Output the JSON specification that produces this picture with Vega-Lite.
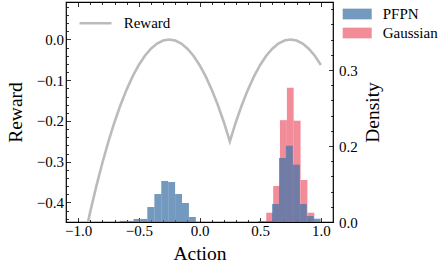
{
  "$schema": "https://vega.github.io/schema/vega-lite/v6.json",
  "width": 267,
  "height": 220,
  "autosize": {"type": "none"},
  "padding": {"left": 66, "top": 2, "right": 107, "bottom": 43},
  "config": {
    "view": {"stroke": "black", "strokeWidth": 1.2},
    "font": "Liberation Serif",
    "axis": {
      "domain": false, "grid": false, "tickColor": "black", "tickWidth": 0.8,
      "labelColor": "black", "titleColor": "black",
      "labelFont": "Liberation Serif", "titleFont": "Liberation Serif",
      "labelFontSize": 15, "titleFontSize": 19.5, "titleFontWeight": "normal",
      "labelFlush": false, "labelOverlap": false
    },
    "legend": {"labelFont": "Liberation Serif", "labelFontSize": 15, "labelColor": "black"}
  },
  "datasets": {
    "reward": [
      {"action": -1.0, "reward": -0.5625, "series": "Reward"},
      {"action": -0.95, "reward": -0.49, "series": "Reward"},
      {"action": -0.9, "reward": -0.4225, "series": "Reward"},
      {"action": -0.85, "reward": -0.36, "series": "Reward"},
      {"action": -0.8, "reward": -0.3025, "series": "Reward"},
      {"action": -0.75, "reward": -0.25, "series": "Reward"},
      {"action": -0.7, "reward": -0.2025, "series": "Reward"},
      {"action": -0.65, "reward": -0.16, "series": "Reward"},
      {"action": -0.6, "reward": -0.1225, "series": "Reward"},
      {"action": -0.55, "reward": -0.09, "series": "Reward"},
      {"action": -0.5, "reward": -0.0625, "series": "Reward"},
      {"action": -0.45, "reward": -0.04, "series": "Reward"},
      {"action": -0.4, "reward": -0.0225, "series": "Reward"},
      {"action": -0.35, "reward": -0.01, "series": "Reward"},
      {"action": -0.3, "reward": -0.0025, "series": "Reward"},
      {"action": -0.25, "reward": 0.0, "series": "Reward"},
      {"action": -0.2, "reward": -0.0025, "series": "Reward"},
      {"action": -0.15, "reward": -0.01, "series": "Reward"},
      {"action": -0.1, "reward": -0.0225, "series": "Reward"},
      {"action": -0.05, "reward": -0.04, "series": "Reward"},
      {"action": 0.0, "reward": -0.0625, "series": "Reward"},
      {"action": 0.05, "reward": -0.09, "series": "Reward"},
      {"action": 0.1, "reward": -0.1225, "series": "Reward"},
      {"action": 0.15, "reward": -0.16, "series": "Reward"},
      {"action": 0.2, "reward": -0.2025, "series": "Reward"},
      {"action": 0.25, "reward": -0.25, "series": "Reward"},
      {"action": 0.3, "reward": -0.2025, "series": "Reward"},
      {"action": 0.35, "reward": -0.16, "series": "Reward"},
      {"action": 0.4, "reward": -0.1225, "series": "Reward"},
      {"action": 0.45, "reward": -0.09, "series": "Reward"},
      {"action": 0.5, "reward": -0.0625, "series": "Reward"},
      {"action": 0.55, "reward": -0.04, "series": "Reward"},
      {"action": 0.6, "reward": -0.0225, "series": "Reward"},
      {"action": 0.65, "reward": -0.01, "series": "Reward"},
      {"action": 0.7, "reward": -0.0025, "series": "Reward"},
      {"action": 0.75, "reward": 0.0, "series": "Reward"},
      {"action": 0.8, "reward": -0.0025, "series": "Reward"},
      {"action": 0.85, "reward": -0.01, "series": "Reward"},
      {"action": 0.9, "reward": -0.0225, "series": "Reward"},
      {"action": 0.95, "reward": -0.04, "series": "Reward"},
      {"action": 1.0, "reward": -0.0625, "series": "Reward"}
    ],
    "gauss": [
      {"series": "Gaussian", "x0": 0.55, "x1": 0.607, "density": 0.0122},
      {"series": "Gaussian", "x0": 0.607, "x1": 0.663, "density": 0.0474},
      {"series": "Gaussian", "x0": 0.663, "x1": 0.72, "density": 0.134},
      {"series": "Gaussian", "x0": 0.72, "x1": 0.776, "density": 0.1767},
      {"series": "Gaussian", "x0": 0.776, "x1": 0.833, "density": 0.1333},
      {"series": "Gaussian", "x0": 0.833, "x1": 0.889, "density": 0.0553},
      {"series": "Gaussian", "x0": 0.889, "x1": 0.946, "density": 0.0122}
    ],
    "pfpn": [
      {"series": "PFPN", "x0": -0.658, "x1": -0.601, "density": 0.0015},
      {"series": "PFPN", "x0": -0.601, "x1": -0.544, "density": 0.0015},
      {"series": "PFPN", "x0": -0.544, "x1": -0.487, "density": 0.004},
      {"series": "PFPN", "x0": -0.487, "x1": -0.43, "density": 0.004},
      {"series": "PFPN", "x0": -0.43, "x1": -0.372, "density": 0.0197},
      {"series": "PFPN", "x0": -0.372, "x1": -0.315, "density": 0.0368},
      {"series": "PFPN", "x0": -0.315, "x1": -0.258, "density": 0.054},
      {"series": "PFPN", "x0": -0.258, "x1": -0.201, "density": 0.0526},
      {"series": "PFPN", "x0": -0.201, "x1": -0.144, "density": 0.0368},
      {"series": "PFPN", "x0": -0.144, "x1": -0.087, "density": 0.025},
      {"series": "PFPN", "x0": -0.087, "x1": -0.03, "density": 0.0066},
      {"series": "PFPN", "x0": 0.484, "x1": 0.541, "density": 0.0013},
      {"series": "PFPN", "x0": 0.541, "x1": 0.598, "density": 0.0013},
      {"series": "PFPN", "x0": 0.598, "x1": 0.655, "density": 0.0237},
      {"series": "PFPN", "x0": 0.655, "x1": 0.712, "density": 0.0842},
      {"series": "PFPN", "x0": 0.712, "x1": 0.769, "density": 0.1004},
      {"series": "PFPN", "x0": 0.769, "x1": 0.827, "density": 0.0754},
      {"series": "PFPN", "x0": 0.827, "x1": 0.884, "density": 0.0237},
      {"series": "PFPN", "x0": 0.884, "x1": 0.941, "density": 0.0079},
      {"series": "PFPN", "x0": 0.941, "x1": 0.998, "density": 0.0043}
    ]
  },
  "resolve": {"scale": {"y": "independent"}},
  "layer": [
    {
      "data": {"name": "reward"},
      "resolve": {"axis": {"x": "independent", "y": "independent"}},
      "layer": [
        {
          "mark": {"type": "line", "clip": true, "strokeWidth": 2.6},
          "encoding": {
            "x": {"field": "action", "type": "quantitative", "scale": {"domain": [-1.1, 1.1], "nice": false, "zero": false},
              "axis": {"orient": "bottom", "title": "Action", "values": [-1, -0.5, 0, 0.5, 1], "format": ".1f", "tickSize": -4.5, "labelPadding": 6, "titlePadding": 6}},
            "y": {"field": "reward", "type": "quantitative", "scale": {"domain": [-0.448, 0.092], "nice": false, "zero": false},
              "axis": {"orient": "left", "title": "Reward", "values": [-0.4, -0.3, -0.2, -0.1, 0], "format": ".1f", "tickSize": -4.5, "labelPadding": 7, "titlePadding": 11}},
            "stroke": {"field": "series", "type": "nominal", "scale": {"domain": ["Reward"], "range": ["#BBBBBB"]},
              "legend": {"orient": "none", "legendX": 12, "legendY": 3.7, "title": null, "symbolType": "stroke", "symbolSize": 1024, "symbolStrokeWidth": 2.6, "labelOffset": 10.7, "labelFontSize": 15}}
          }
        },
        {
          "mark": {"type": "line", "opacity": 0},
          "encoding": {
            "x": {"field": "action", "type": "quantitative", "scale": {"domain": [-1.1, 1.1], "nice": false, "zero": false},
              "axis": {"orient": "bottom", "title": null, "labels": false, "values": [-0.9, -0.8, -0.7, -0.6, -0.4, -0.3, -0.2, -0.1, 0.1, 0.2, 0.3, 0.4, 0.6, 0.7, 0.8, 0.9], "tickSize": -2.5}},
            "y": {"field": "reward", "type": "quantitative", "scale": {"domain": [-0.448, 0.092], "nice": false, "zero": false},
              "axis": {"orient": "left", "title": null, "labels": false, "values": [-0.44, -0.42, -0.38, -0.36, -0.34, -0.32, -0.28, -0.26, -0.24, -0.22, -0.18, -0.16, -0.14, -0.12, -0.08, -0.06, -0.04, -0.02, 0.02, 0.04, 0.06, 0.08], "tickSize": -2.5}}
          }
        },
        {
          "mark": {"type": "line", "opacity": 0},
          "encoding": {
            "x": {"field": "action", "type": "quantitative", "scale": {"domain": [-1.1, 1.1], "nice": false, "zero": false},
              "axis": {"orient": "top", "title": null, "labels": false, "values": [-1, -0.5, 0, 0.5, 1], "tickSize": -4.5}},
            "y": {"field": "reward", "type": "quantitative", "axis": null}
          }
        },
        {
          "mark": {"type": "line", "opacity": 0},
          "encoding": {
            "x": {"field": "action", "type": "quantitative", "scale": {"domain": [-1.1, 1.1], "nice": false, "zero": false},
              "axis": {"orient": "top", "title": null, "labels": false, "values": [-0.9, -0.8, -0.7, -0.6, -0.4, -0.3, -0.2, -0.1, 0.1, 0.2, 0.3, 0.4, 0.6, 0.7, 0.8, 0.9], "tickSize": -2.5}},
            "y": {"field": "reward", "type": "quantitative", "axis": null}
          }
        }
      ]
    },
    {
      "resolve": {"axis": {"y": "independent"}},
      "layer": [
        {
          "data": {"name": "gauss"},
          "mark": {"type": "bar", "opacity": 0.75},
          "encoding": {
            "x": {"field": "x0", "type": "quantitative", "axis": null, "scale": {"domain": [-1.1, 1.1], "nice": false, "zero": false}},
            "x2": {"field": "x1"},
            "y": {"field": "density", "type": "quantitative", "scale": {"domain": [0, 0.2895], "nice": false},
              "axis": {"orient": "right", "title": "Density", "titleAngle": -90, "values": [0, 0.1, 0.2], "labelExpr": "datum.value < 0.05 ? '0.0' : (datum.value < 0.15 ? '0.2' : '0.3')", "tickSize": -4.5, "labelPadding": 10, "titlePadding": 25}},
            "y2": {"datum": 0},
            "color": {"field": "series", "type": "nominal", "scale": {"domain": ["PFPN", "Gaussian"], "range": ["#4477AA", "#EE6677"]},
              "legend": {"orient": "none", "legendX": 281.2, "legendY": 2, "title": null, "symbolType": "M-1.45,-0.535H1.45V0.535H-1.45Z", "symbolSize": 400, "symbolOpacity": 0.75, "symbolStrokeWidth": 0, "labelOffset": 15.5, "rowPadding": 1, "labelFontSize": 15}}
          }
        },
        {
          "data": {"name": "pfpn"},
          "mark": {"type": "bar", "opacity": 0.75},
          "encoding": {
            "x": {"field": "x0", "type": "quantitative", "axis": null, "scale": {"domain": [-1.1, 1.1], "nice": false, "zero": false}},
            "x2": {"field": "x1"},
            "y": {"field": "density", "type": "quantitative", "scale": {"domain": [0, 0.2895], "nice": false},
              "axis": {"orient": "right", "title": null, "labels": false, "values": [0.02, 0.04, 0.06, 0.08, 0.12, 0.14, 0.16, 0.18, 0.22, 0.24, 0.26, 0.28], "tickSize": -2.5}},
            "y2": {"datum": 0},
            "color": {"field": "series", "type": "nominal", "scale": {"domain": ["PFPN", "Gaussian"], "range": ["#4477AA", "#EE6677"]}}
          }
        }
      ]
    }
  ]
}
